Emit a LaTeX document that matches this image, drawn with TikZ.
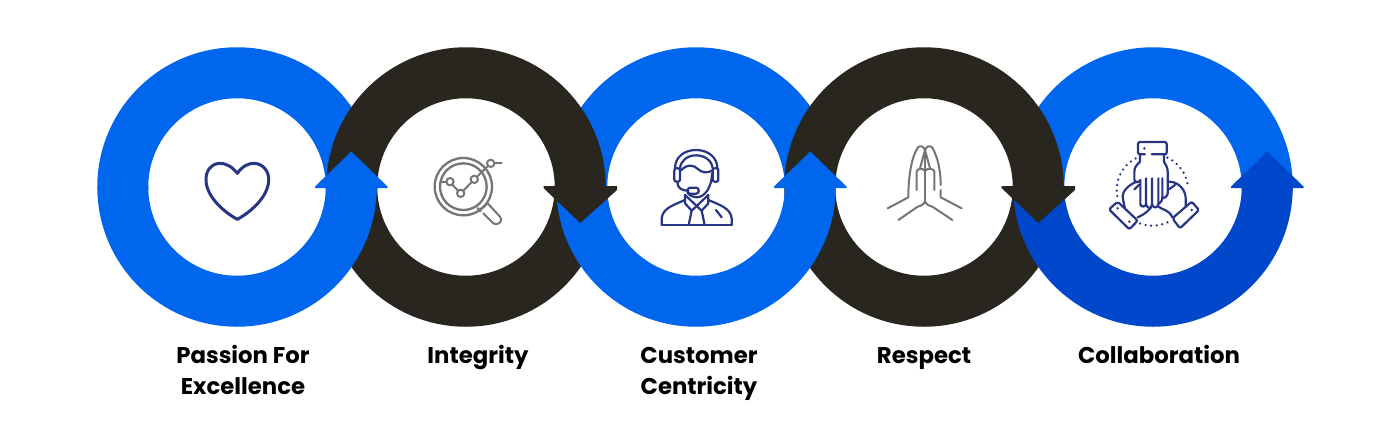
\documentclass[tikz,border=0pt]{standalone}
\usepackage{fontspec}
\setmainfont{Poppins}
\definecolor{ringblue}{HTML}{0066EE}
\definecolor{ringdark}{HTML}{28261F}
\definecolor{ringdeep}{HTML}{0047CC}
\definecolor{navy}{HTML}{273583}
\definecolor{icongray}{HTML}{757575}
\tikzset{
  band/.style={line width=51pt},
  lab/.style={font=\bfseries\fontsize{22.8}{31}\selectfont,text=black,inner sep=0pt,anchor=base},
  navyicon/.style={draw=navy,line width=2.2pt,line cap=round,line join=round,fill=none},
  grayicon/.style={draw=icongray,line width=2pt,line cap=round,line join=round,fill=none},
}
% #1 centre x, #2 colour; the arcs run a little past the seam so no hairline shows
\newcommand{\upperband}[2]{\draw[band,draw=#2] ([shift={(1:114.25)}]#1,187) arc[start angle=1,end angle=-181,radius=114.25];}
\newcommand{\lowerband}[2]{\draw[band,draw=#2] (#1+114.25,187) arc[start angle=0,end angle=180,radius=114.25];}
\newcommand{\uphead}[2]{\fill[#2] (#1+114.25,151.5) -- (#1+150.5,186.5) -- (#1+150.5,188) -- (#1+139.5,188) -- (#1+139.5,191) -- (#1+89,191) -- (#1+89,188) -- (#1+78,188) -- (#1+78,186.5) -- cycle;}
\newcommand{\downhead}[2]{\fill[#2] (#1+114.25,223) -- (#1+151,190) -- (#1+151,186) -- (#1+77.5,186) -- (#1+77.5,188) -- cycle;}
\begin{document}
\begin{tikzpicture}[x=1pt,y=-1pt]
\path[fill=white] (0,0) rectangle (1399,433);
% rings, layered
\lowerband{466}{ringdark}
\lowerband{924}{ringdark}
\upperband{237}{ringblue}
\upperband{696}{ringblue}
\upperband{1153}{ringblue}
\upperband{466}{ringdark}
\upperband{924}{ringdark}
\lowerband{237}{ringblue}
\lowerband{696}{ringblue}
\lowerband{1153}{ringdeep}
\downhead{466}{ringdark}
\downhead{924}{ringdark}
\uphead{237}{ringblue}
\uphead{696}{ringblue}
\uphead{1153}{ringdeep}
% heart
\begin{scope}[shift={(180,130)},scale=1/3]
\draw[navyicon,line width=3pt] (172,130) .. controls (155,108) and (135,99) .. (118,100)
  .. controls (92,102) and (76,125) .. (78,152)
  .. controls (80,200) and (130,245) .. (172,268)
  .. controls (214,245) and (264,200) .. (266,152)
  .. controls (268,125) and (250,102) .. (224,100)
  .. controls (207,99) and (187,108) .. (172,130) -- cycle;
\end{scope}
% magnifier
\begin{scope}[shift={(420,140)},scale=1/3]
\draw[grayicon,line width=2.3pt] (130,140) circle[radius=86];
\draw[grayicon,line width=2.3pt] (130,140) circle[radius=70];
\draw[grayicon] (62,125) -- (78,125);
\draw[grayicon] (98,135) -- (113,151);
\draw[grayicon] (131,151) -- (154,127);
\draw[grayicon] (172,109) -- (204,78);
\draw[grayicon] (223,70) -- (245,70);
\draw[grayicon] (90,125) circle[radius=11];
\draw[grayicon] (122,160) circle[radius=11];
\draw[grayicon] (163,118) circle[radius=11];
\draw[grayicon] (212,70) circle[radius=11];
\draw[grayicon] (176,212) -- (203,190) -- (240,230) .. controls (248,240) and (240,250) .. (232,252) .. controls (226,254) and (221,251) .. (218,248) -- (190,220);
\draw[grayicon] (172,204) -- (182,214);
\end{scope}
% agent
\begin{scope}[shift={(650,140)},scale=1/3]
\draw[navyicon] (75,85) .. controls (75,52) and (102,30) .. (138,30) .. controls (174,30) and (202,52) .. (202,85);
\draw[navyicon] (90,85) .. controls (92,62) and (112,46) .. (138,46) .. controls (164,46) and (186,62) .. (188,85);
\draw[navyicon,rounded corners=2pt] (73,85) rectangle (90,125);
\draw[navyicon,rounded corners=2pt] (188,85) rectangle (205,125);
\draw[navyicon] (92,92) .. controls (112,70) and (132,75) .. (145,88) .. controls (155,98) and (172,100) .. (186,92);
\draw[navyicon] (186,100) .. controls (186,140) and (165,172) .. (140,172) .. controls (130,172) and (120,168) .. (112,158);
\draw[navyicon] (82,125) .. controls (82,145) and (95,152) .. (115,152);
\draw[navyicon,rounded corners=2.5pt] (113,143) rectangle (146,161);
\draw[navyicon] (35,255) -- (35,235) .. controls (38,205) and (70,195) .. (105,180);
\draw[navyicon] (245,255) -- (245,235) .. controls (242,205) and (210,195) .. (175,180);
\draw[navyicon] (35,255) -- (245,255);
\draw[navyicon] (105,165) -- (105,190) -- (125,212) -- (175,165);
\draw[navyicon] (175,165) -- (175,190) -- (155,212) -- (105,165);
\draw[navyicon] (125,212) -- (116,255);
\draw[navyicon] (155,212) -- (164,255);
\draw[navyicon] (198,210) -- (215,232);
\end{scope}
% praying hands
\begin{scope}[shift={(875,135)},scale=1/3]
\draw[grayicon] (38,220) -- (100,187) .. controls (100,130) and (108,70) .. (128,38) .. controls (135,30) and (145,33) .. (150,45) .. controls (155,33) and (165,30) .. (172,38) .. controls (190,70) and (197,110) .. (197,150);
\draw[grayicon] (197,165) -- (197,187) -- (260,220);
\draw[grayicon] (150,45) -- (150,205);
\draw[grayicon] (135,100) -- (150,45) -- (165,100);
\draw[grayicon] (125,165) -- (125,110) .. controls (125,100) and (145,98) .. (150,108) .. controls (155,98) and (178,100) .. (178,110) -- (178,165);
\draw[grayicon] (70,255) -- (128,215) .. controls (140,212) and (148,207) .. (150,200) .. controls (152,207) and (160,212) .. (172,215) -- (232,255);
\end{scope}
% hands
\begin{scope}[shift={(1095,130)},scale=1/3]
\draw[navyicon,rounded corners=2pt] (170,73) -- (215,73) -- (215,36) -- (129,36) -- (129,73) -- (150,73);
\fill[navy] (148,55) circle[radius=4];
\draw[navyicon] (135,75) -- (135,95) .. controls (125,105) and (118,112) .. (118,125) -- (118,150) .. controls (122,158) and (130,160) .. (136,150);
\draw[navyicon] (136,150) -- (136,222) .. controls (136,232) and (153,232) .. (153,222) -- (153,145);
\draw[navyicon] (153,222) .. controls (158,238) and (168,238) .. (171,225) -- (171,145);
\draw[navyicon] (171,225) .. controls (178,238) and (190,232) .. (190,222) -- (190,145);
\draw[navyicon] (190,222) .. controls (198,218) and (202,212) .. (202,200) -- (202,145);
\draw[navyicon] (207,75) -- (207,95) .. controls (212,105) and (218,112) .. (218,125) -- (218,190) .. controls (216,200) and (210,204) .. (202,205);
\draw[navyicon] (125,155) .. controls (100,165) and (78,185) .. (84,208) -- (90,236);
\draw[navyicon] (118,178) -- (132,165);
\draw[navyicon,rounded corners=2pt] (42,238) -- (68,215) -- (128,272) -- (103,298) -- cycle;
\fill[navy] (68,235) circle[radius=4];
\fill[navy] (103,275) circle[radius=4];
\draw[navyicon] (128,262) .. controls (150,252) and (165,240) .. (172,225);
\draw[navyicon] (222,155) .. controls (250,155) and (275,180) .. (272,212) -- (272,231);
\draw[navyicon] (222,178) -- (240,165);
\draw[navyicon,rounded corners=2pt] (232,265) -- (290,215) -- (312,240) -- (255,295) -- cycle;
\fill[navy] (290,240) circle[radius=4];
\draw[navyicon] (188,228) .. controls (200,240) and (222,238) .. (232,262);
\foreach \a in {-65,-56,...,-5,65,74,...,115,-118,-127,...,-190}{\fill[navy] ([shift={(\a:107)}]172,180) circle[radius=3.8];}
\end{scope}
% labels
\node[lab] (l1a) at (243,363) {Passion For};
\node[lab] (l1b) at (243,394) {Excellence};
\node[lab] (l2) at (478,363) {Integrity};
\node[lab] (l3a) at (699,363) {Customer};
\node[lab] (l3b) at (699,394) {Centricity};
\node[lab] (l4) at (924,363) {Respect};
\node[lab] (l5) at (1159,363) {Collaboration};
\end{tikzpicture}
\end{document}
